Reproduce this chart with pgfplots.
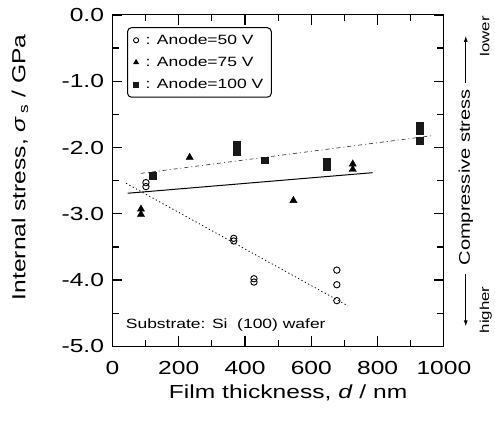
\documentclass[border=0pt]{standalone}
\usepackage{fontspec}
\setmainfont{Liberation Sans}[FakeStretch=1.3]
\usepackage{pgfplots}
\pgfplotsset{compat=1.18}
\usetikzlibrary{arrows.meta}

\newcommand{\bigtxt}{\fontsize{19}{22}\selectfont}
\newcommand{\midtxt}{\fontsize{13.5}{15}\selectfont}

\begin{document}
\begin{tikzpicture}
\begin{axis}[
    scale only axis, width=333pt, height=333pt,
    xmin=0, xmax=1000, ymin=-5, ymax=0,
    clip=false,
    axis line style={line width=1.1pt},
    xtick={0,200,400,600,800,1000},
    xticklabels={0,200,400,600,800,1000},
    ytick={-5,-4,-3,-2,-1,0},
    yticklabels={-5.0,-4.0,-3.0,-2.0,-1.0,0.0},
    minor xtick={100,300,500,700,900},
    minor ytick={-4.5,-3.5,-2.5,-1.5,-0.5},
    xtick pos=both, ytick pos=both,
    tick align=inside,
    major tick length=10pt, minor tick length=6.5pt,
    every tick/.style={black, line width=1.2pt},
    ticklabel style={font=\bigtxt},
    yticklabel style={xshift=-5pt},
    xticklabel style={yshift=-11pt},
    xlabel={Film thickness, \textit{d} / nm},
    ylabel={Internal stress, \textit{σ}\,\textsubscript{s} / GPa},
    label style={font=\bigtxt},
    xlabel style={at={(axis description cs:0.53,-0.14)}, anchor=center},
    ylabel style={at={(axis description cs:-0.279,0.54)}, anchor=center},
    legend style={at={(axis description cs:0.044,0.963)}, anchor=north west,
        draw=black, line width=1pt, rounded corners=4pt, font=\midtxt,
        row sep=7pt, inner xsep=6pt, inner ysep=5pt},
    legend image post style={mark size=2.6pt},
    legend cell align=left,
]

% fit lines
\addplot[black, line width=1pt, forget plot] coordinates {(46,-2.69) (785,-2.38)};
\addplot[black!75, line width=0.7pt, dash pattern=on 4pt off 3pt on 1pt off 3pt, forget plot]
    coordinates {(86,-2.39) (967,-1.82)};
\addplot[black, line width=0.8pt, dash pattern=on 1.2pt off 2.6pt, forget plot]
    coordinates {(41,-2.54) (711,-4.39)};

% Anode = 50 V
\addplot[only marks, mark=o, mark size=3.2pt, mark options={line width=0.9pt, black}]
    coordinates {(101,-2.53) (101,-2.59) (366,-3.37) (366,-3.41)
                 (427,-3.98) (427,-4.03) (677,-3.85) (677,-4.07) (677,-4.31)};
\addlegendentry{\hspace{5pt}: Anode=50 V}

% Anode = 75 V
\addplot[only marks, mark=triangle*, mark size=4.2pt, mark options={black}]
    coordinates {(86,-2.93) (86,-3.01) (233,-2.15) (546,-2.80)
                 (725,-2.25) (725,-2.33)};
\addlegendentry{\hspace{5pt}: Anode=75 V}

% Anode = 100 V
\addplot[only marks, mark=square*, mark size=3.4pt, mark options={black!90}]
    coordinates {(121,-2.42) (376,-1.95) (376,-2.00) (376,-2.06) (459,-2.19)
                 (646,-2.22) (646,-2.29) (926,-1.67) (926,-1.75) (926,-1.90)};
\addlegendentry{\hspace{5pt}: Anode=100 V}

\node[anchor=west, font=\midtxt] at (axis cs:30,-4.68) {Substrate: Si\ \ (100) wafer};

% compressive stress annotation
\node[rotate=90, font=\fontsize{15.5}{17}\selectfont] at (rel axis cs:1.066,0.51) {Compressive stress};
\draw[line width=1pt, -{Latex[length=6pt,width=4pt]}] (rel axis cs:1.066,0.796) -- (rel axis cs:1.066,0.937);
\draw[line width=1pt, -{Latex[length=6pt,width=4pt]}] (rel axis cs:1.066,0.219) -- (rel axis cs:1.066,0.06);
\node[rotate=90, font=\fontsize{13}{15}\selectfont] at (rel axis cs:1.123,0.935) {lower};
\node[rotate=90, font=\fontsize{13}{15}\selectfont] at (rel axis cs:1.126,0.11) {higher};
\end{axis}
\path (-113pt,-79pt) rectangle (382pt,348pt);
\end{tikzpicture}
\end{document}
